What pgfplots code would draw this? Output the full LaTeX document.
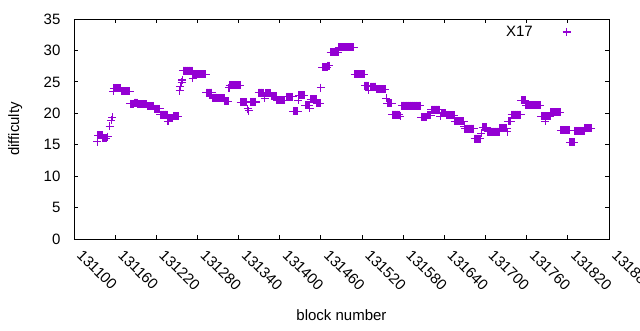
\documentclass[border=0pt]{standalone}
\usepackage{pgfplots}
\pgfplotsset{compat=1.18}
\usepackage{fontspec}
\setmainfont{Liberation Sans}
\definecolor{dv}{HTML}{9400D3}
\begin{document}
\begin{tikzpicture}
\useasboundingbox (0,0) rectangle (480pt,247.5pt);
\begin{axis}[
  at={(55.5pt,68.25pt)}, anchor=south west,
  scale only axis, width=401.25pt, height=165pt,
  xmin=131100, xmax=131880, ymin=0, ymax=35,
  xtick={131100,131160,131220,131280,131340,131400,131460,131520,131580,131640,131700,131760,131820,131880},
  xticklabels={131100,131160,131220,131280,131340,131400,131460,131520,131580,131640,131700,131760,131820,131880},
  ytick={0,5,10,15,20,25,30,35},
  yticklabels={0,5,10,15,20,25,30,35},
  scaled x ticks=false, scaled y ticks=false,
  font=\fontsize{11.25}{13.5}\selectfont,
  tick align=inside, major tick length=3pt,
  axis line style={line width=0.7pt},
  every tick/.style={black, line width=0.7pt},
  xticklabel style={xshift=1.5pt, rotate=-45, anchor=base west, inner sep=0pt},
  xticklabel shift=12.75pt,
  yticklabel style={anchor=east, inner sep=0pt},
  yticklabel shift=10pt,
  xlabel={block number}, ylabel={difficulty},
  xlabel style={at={(axis description cs:0.5,-0.345)}, anchor=center},
  ylabel style={at={(axis description cs:-0.110,0.5)}, anchor=center},
  legend plot pos=right,
  legend style={draw=none, fill=none, inner sep=0pt, nodes={inner sep=0pt}, column sep=22.5pt,
    at={(axis description cs:0.929,0.941)}, anchor=east},
]
\addplot[only marks, mark=+, mark size=3pt, color=dv, line width=0.8pt] table[row sep=\\] {
b d\\
131134 15.5\\
131135 16.5\\ 131136 16.5\\ 131137 16.5\\ 131138 16.5\\ 131139 16.5\\ 131140 16.5\\ 131141 16.5\\
131142 16\\ 131143 16\\ 131144 16\\ 131145 16\\ 131146 16\\ 131147 16\\
131149 16.3\\ 131152 17.9\\ 131154 18.9\\ 131156 19.4\\ 131157 23.5\\
131158 24\\ 131159 24\\ 131160 24\\ 131161 24\\ 131162 24\\ 131163 24\\ 131164 24\\ 131165 24\\ 131166 24\\ 131167 24\\ 131168 24\\
131169 23.5\\ 131170 23.5\\ 131171 23.5\\ 131172 23.5\\ 131173 23.5\\ 131174 23.5\\ 131175 23.5\\ 131176 23.5\\ 131177 23.5\\ 131178 23.5\\ 131179 23.5\\ 131180 23.5\\ 131181 23.5\\
131182 21.5\\ 131183 21.5\\ 131184 21.5\\ 131185 21.5\\ 131186 21.5\\ 131187 21.5\\
131188 21.7\\ 131189 21.7\\ 131190 21.7\\ 131191 21.7\\ 131192 21.7\\
131193 21.4\\ 131194 21.4\\ 131195 21.4\\ 131196 21.4\\ 131197 21.4\\ 131198 21.4\\ 131199 21.4\\ 131200 21.4\\ 131201 21.4\\ 131202 21.4\\ 131203 21.4\\ 131204 21.4\\ 131205 21.4\\ 131206 21.4\\
131207 21.1\\ 131208 21.1\\ 131209 21.1\\ 131210 21.1\\ 131211 21.1\\ 131212 21.1\\ 131213 21.1\\ 131214 21.1\\ 131215 21.1\\ 131216 21.1\\
131217 20.7\\ 131218 20.7\\ 131219 20.7\\ 131220 20.7\\ 131221 20.7\\ 131222 20.7\\ 131223 20.7\\ 131224 20.7\\ 131225 20.7\\
131226 19.8\\ 131227 19.8\\ 131228 19.8\\ 131229 19.8\\ 131230 19.8\\ 131231 19.8\\ 131232 19.8\\ 131233 19.8\\ 131234 19.8\\ 131235 19.8\\ 131236 19.8\\
131237 18.7\\
131238 19.2\\ 131239 19.2\\ 131240 19.2\\ 131241 19.2\\ 131242 19.2\\ 131243 19.2\\ 131244 19.2\\
131245 19.5\\ 131246 19.5\\ 131247 19.5\\ 131248 19.5\\ 131249 19.5\\ 131250 19.5\\ 131251 19.5\\ 131252 19.5\\
131254 23.6\\ 131255 24.3\\ 131257 24.9\\ 131258 25.3\\
131259 26.8\\ 131260 26.8\\ 131261 26.8\\ 131262 26.8\\ 131263 26.8\\ 131264 26.8\\ 131265 26.8\\ 131266 26.8\\ 131267 26.8\\ 131268 26.8\\ 131269 26.8\\ 131270 26.8\\ 131271 26.8\\ 131272 26.8\\
131273 25.6\\
131275 26.2\\ 131276 26.2\\ 131277 26.2\\ 131278 26.2\\ 131279 26.2\\ 131280 26.2\\ 131281 26.2\\ 131282 26.2\\ 131283 26.2\\ 131284 26.2\\ 131285 26.2\\ 131286 26.2\\ 131287 26.2\\ 131288 26.2\\ 131289 26.2\\ 131290 26.2\\ 131291 26.2\\ 131292 26.2\\
131293 23.3\\ 131294 23.3\\ 131295 23.3\\ 131296 23.3\\ 131297 23.3\\ 131298 23.3\\ 131299 23.3\\ 131300 23.3\\ 131301 23.3\\
131302 22.4\\
131303 22.5\\ 131304 22.5\\ 131305 22.5\\ 131306 22.5\\ 131307 22.5\\ 131308 22.5\\
131309 22.4\\ 131310 22.4\\ 131311 22.4\\ 131312 22.4\\ 131313 22.4\\ 131314 22.4\\ 131315 22.4\\ 131316 22.4\\ 131317 22.4\\ 131318 22.4\\ 131319 22.4\\
131320 21.9\\ 131321 21.9\\ 131322 21.9\\ 131323 21.9\\ 131324 21.9\\ 131325 21.9\\
131326 24.1\\
131327 24.45\\ 131328 24.45\\ 131329 24.45\\ 131330 24.45\\ 131331 24.45\\ 131332 24.45\\ 131333 24.45\\ 131334 24.45\\ 131335 24.45\\ 131336 24.45\\ 131337 24.45\\ 131338 24.45\\ 131339 24.45\\ 131340 24.45\\ 131341 24.45\\ 131342 24.45\\
131343 21.75\\ 131344 21.75\\ 131345 21.75\\ 131346 21.75\\ 131347 21.75\\ 131348 21.75\\ 131349 21.75\\ 131350 21.75\\ 131351 21.75\\ 131352 21.75\\
131353 20.7\\ 131355 20.4\\
131357 21.8\\ 131358 21.8\\ 131359 21.8\\ 131360 21.8\\ 131361 21.8\\ 131362 21.8\\ 131363 21.8\\ 131364 21.8\\ 131365 21.8\\
131369 23.3\\ 131370 23.3\\ 131371 23.3\\ 131372 23.3\\ 131373 23.3\\ 131374 23.3\\ 131375 23.3\\ 131376 23.3\\
131378 22.4\\
131379 23.2\\ 131380 23.2\\ 131381 23.2\\ 131382 23.2\\ 131383 23.2\\ 131384 23.2\\ 131385 23.2\\ 131386 23.2\\ 131387 23.2\\
131388 22.7\\ 131389 22.7\\ 131390 22.7\\ 131391 22.7\\ 131392 22.7\\ 131393 22.7\\ 131394 22.7\\ 131395 22.7\\
131396 22.1\\ 131397 22.1\\ 131398 22.1\\ 131399 22.1\\ 131400 22.1\\ 131401 22.1\\ 131402 22.1\\ 131403 22.1\\ 131404 22.1\\ 131405 22.1\\ 131406 22.1\\ 131407 22.1\\
131410 22.6\\ 131411 22.6\\ 131412 22.6\\ 131413 22.6\\ 131414 22.6\\ 131415 22.6\\ 131416 22.6\\ 131417 22.6\\ 131418 22.6\\ 131419 22.6\\
131420 20.3\\ 131421 20.3\\ 131422 20.3\\ 131423 20.3\\ 131424 20.3\\ 131425 20.3\\ 131426 20.3\\
131427 22.1\\
131428 22.9\\ 131429 22.9\\ 131430 22.9\\ 131431 22.9\\ 131432 22.9\\ 131433 22.9\\ 131434 22.9\\ 131435 22.9\\ 131436 22.9\\
131437 21.3\\ 131438 21.3\\ 131439 21.3\\ 131440 21.3\\ 131441 21.3\\ 131442 21.3\\ 131443 21.3\\
131444 20.8\\
131445 22.2\\ 131446 22.2\\ 131447 22.2\\ 131448 22.2\\ 131449 22.2\\ 131450 22.2\\ 131451 22.2\\ 131452 22.2\\ 131453 22.2\\
131454 21.6\\ 131455 21.6\\ 131456 21.6\\ 131457 21.6\\ 131458 21.6\\ 131459 21.6\\
131460 24.1\\
131462 27.3\\ 131463 27.3\\ 131464 27.3\\ 131465 27.3\\ 131466 27.3\\ 131467 27.3\\ 131468 27.3\\ 131469 27.3\\
131470 27.6\\ 131471 27.6\\ 131472 27.6\\
131474 29.7\\ 131475 29.7\\ 131476 29.7\\ 131477 29.7\\ 131478 29.7\\ 131479 29.7\\ 131480 29.7\\ 131481 29.7\\ 131482 29.7\\ 131483 29.7\\ 131484 29.7\\ 131485 29.7\\
131486 30.5\\ 131487 30.5\\ 131488 30.5\\ 131489 30.5\\ 131490 30.5\\ 131491 30.5\\ 131492 30.5\\ 131493 30.5\\ 131494 30.5\\ 131495 30.5\\ 131496 30.5\\ 131497 30.5\\ 131498 30.5\\ 131499 30.5\\ 131500 30.5\\ 131501 30.5\\ 131502 30.5\\ 131503 30.5\\ 131504 30.5\\ 131505 30.5\\ 131506 30.5\\ 131507 30.5\\ 131508 30.5\\
131509 26.2\\ 131510 26.2\\ 131511 26.2\\ 131512 26.2\\ 131513 26.2\\ 131514 26.2\\ 131515 26.2\\ 131516 26.2\\ 131517 26.2\\ 131518 26.2\\ 131519 26.2\\ 131520 26.2\\ 131521 26.2\\ 131522 26.2\\ 131523 26.2\\
131524 24.4\\ 131525 24.4\\ 131526 24.4\\ 131527 24.4\\ 131528 24.4\\ 131529 24.4\\
131530 23.7\\
131532 24.25\\ 131533 24.25\\ 131534 24.25\\ 131535 24.25\\ 131536 24.25\\ 131537 24.25\\ 131538 24.25\\ 131539 24.25\\ 131540 24.25\\
131541 23.8\\ 131542 23.8\\ 131543 23.8\\ 131544 23.8\\ 131545 23.8\\ 131546 23.8\\ 131547 23.8\\ 131548 23.8\\ 131549 23.8\\ 131550 23.8\\ 131551 23.8\\ 131552 23.8\\ 131553 23.8\\ 131554 23.8\\
131555 22.4\\
131557 21.6\\ 131558 21.6\\ 131559 21.6\\ 131560 21.6\\ 131561 21.6\\ 131562 21.6\\ 131563 21.6\\
131564 19.8\\ 131565 19.8\\ 131566 19.8\\ 131567 19.8\\ 131568 19.8\\ 131569 19.8\\ 131570 19.8\\ 131571 19.8\\ 131572 19.8\\ 131573 19.8\\ 131574 19.8\\
131576 19.5\\
131578 21.2\\ 131579 21.2\\ 131580 21.2\\ 131581 21.2\\ 131582 21.2\\ 131583 21.2\\ 131584 21.2\\ 131585 21.2\\ 131586 21.2\\ 131587 21.2\\ 131588 21.2\\ 131589 21.2\\ 131590 21.2\\ 131591 21.2\\ 131592 21.2\\ 131593 21.2\\ 131594 21.2\\ 131595 21.2\\ 131596 21.2\\ 131597 21.2\\ 131598 21.2\\ 131599 21.2\\ 131600 21.2\\ 131601 21.2\\ 131602 21.2\\ 131603 21.2\\ 131604 21.2\\ 131605 21.2\\
131606 19.4\\ 131607 19.4\\ 131608 19.4\\ 131609 19.4\\ 131610 19.4\\ 131611 19.4\\ 131612 19.4\\ 131613 19.4\\ 131614 19.4\\
131615 19.7\\ 131616 19.7\\ 131617 19.7\\ 131618 19.7\\ 131619 19.7\\ 131620 19.7\\
131621 20.6\\ 131622 20.6\\ 131623 20.6\\ 131624 20.6\\ 131625 20.6\\ 131626 20.6\\ 131627 20.6\\ 131628 20.6\\ 131629 20.6\\ 131630 20.6\\ 131631 20.6\\ 131632 20.6\\ 131633 20.6\\
131634 19.5\\
131636 20\\ 131637 20\\ 131638 20\\ 131639 20\\ 131640 20\\ 131641 20\\ 131642 20\\
131643 19.7\\ 131644 19.7\\ 131645 19.7\\ 131646 19.7\\ 131647 19.7\\ 131648 19.7\\ 131649 19.7\\ 131650 19.7\\ 131651 19.7\\ 131652 19.7\\ 131653 19.7\\ 131654 19.7\\
131655 18.7\\ 131656 18.7\\ 131657 18.7\\ 131658 18.7\\ 131659 18.7\\ 131660 18.7\\ 131661 18.7\\ 131662 18.7\\ 131663 18.7\\ 131664 18.7\\ 131665 18.7\\ 131666 18.7\\ 131667 18.7\\ 131668 18.7\\
131669 17.9\\
131670 17.55\\ 131671 17.55\\ 131672 17.55\\ 131673 17.55\\ 131674 17.55\\ 131675 17.55\\ 131676 17.55\\ 131677 17.55\\ 131678 17.55\\ 131679 17.55\\ 131680 17.55\\ 131681 17.55\\ 131682 17.55\\ 131683 17.55\\
131684 15.95\\ 131685 15.95\\ 131686 15.95\\ 131687 15.95\\ 131688 15.95\\ 131689 15.95\\ 131690 15.95\\ 131691 15.95\\ 131692 15.95\\
131694 16.8\\
131696 17.8\\ 131697 17.8\\ 131698 17.8\\ 131699 17.8\\ 131700 17.8\\ 131701 17.8\\ 131702 17.8\\
131703 17.1\\ 131704 17.1\\ 131705 17.1\\ 131706 17.1\\ 131707 17.1\\ 131708 17.1\\ 131709 17.1\\ 131710 17.1\\ 131711 17.1\\ 131712 17.1\\ 131713 17.1\\ 131714 17.1\\ 131715 17.1\\ 131716 17.1\\ 131717 17.1\\ 131718 17.1\\ 131719 17.1\\ 131720 17.1\\
131721 17.6\\ 131722 17.6\\ 131723 17.6\\ 131724 17.6\\ 131725 17.6\\ 131726 17.6\\ 131727 17.6\\ 131728 17.6\\ 131729 17.6\\ 131730 17.6\\ 131731 17.6\\
131732 17.1\\
131733 18.7\\ 131734 18.7\\ 131735 18.7\\ 131736 18.7\\ 131737 18.7\\
131738 19.8\\ 131739 19.8\\ 131740 19.8\\ 131741 19.8\\ 131742 19.8\\ 131743 19.8\\ 131744 19.8\\ 131745 19.8\\ 131746 19.8\\ 131747 19.8\\ 131748 19.8\\ 131749 19.8\\ 131750 19.8\\ 131751 19.8\\
131752 22.1\\ 131753 22.1\\ 131754 22.1\\ 131755 22.1\\ 131756 22.1\\ 131757 22.1\\ 131758 22.1\\
131759 21.3\\ 131760 21.3\\ 131761 21.3\\ 131762 21.3\\ 131763 21.3\\ 131764 21.3\\ 131765 21.3\\ 131766 21.3\\ 131767 21.3\\ 131768 21.3\\ 131769 21.3\\ 131770 21.3\\ 131771 21.3\\ 131772 21.3\\ 131773 21.3\\ 131774 21.3\\ 131775 21.3\\ 131776 21.3\\ 131777 21.3\\ 131778 21.3\\ 131779 21.3\\ 131780 21.3\\
131781 19.5\\ 131782 19.5\\ 131783 19.5\\ 131784 19.5\\ 131785 19.5\\ 131786 19.5\\ 131787 19.5\\ 131788 19.5\\ 131789 19.5\\ 131790 19.5\\ 131791 19.5\\ 131792 19.5\\ 131793 19.5\\ 131794 19.5\\
131787 18.7\\
131795 20.15\\ 131796 20.15\\ 131797 20.15\\ 131798 20.15\\ 131799 20.15\\ 131800 20.15\\ 131801 20.15\\ 131802 20.15\\ 131803 20.15\\ 131804 20.15\\ 131805 20.15\\ 131806 20.15\\ 131807 20.15\\ 131808 20.15\\ 131809 20.15\\
131810 17.3\\ 131811 17.3\\ 131812 17.3\\ 131813 17.3\\ 131814 17.3\\ 131815 17.3\\ 131816 17.3\\ 131817 17.3\\ 131818 17.3\\ 131819 17.3\\ 131820 17.3\\ 131821 17.3\\ 131822 17.3\\
131823 15.4\\ 131824 15.4\\ 131825 15.4\\ 131826 15.4\\ 131827 15.4\\ 131828 15.4\\ 131829 15.4\\
131830 17.2\\ 131831 17.2\\ 131832 17.2\\ 131833 17.2\\ 131834 17.2\\ 131835 17.2\\ 131836 17.2\\ 131837 17.2\\ 131838 17.2\\ 131839 17.2\\ 131840 17.2\\ 131841 17.2\\ 131842 17.2\\ 131843 17.2\\ 131844 17.2\\
131845 17.6\\ 131846 17.6\\ 131847 17.6\\ 131848 17.6\\ 131849 17.6\\ 131850 17.6\\ 131851 17.6\\ 131852 17.6\\ 131853 17.6\\ 131854 17.6\\
};
\addlegendentry{X17}
\end{axis}
\end{tikzpicture}
\end{document}
